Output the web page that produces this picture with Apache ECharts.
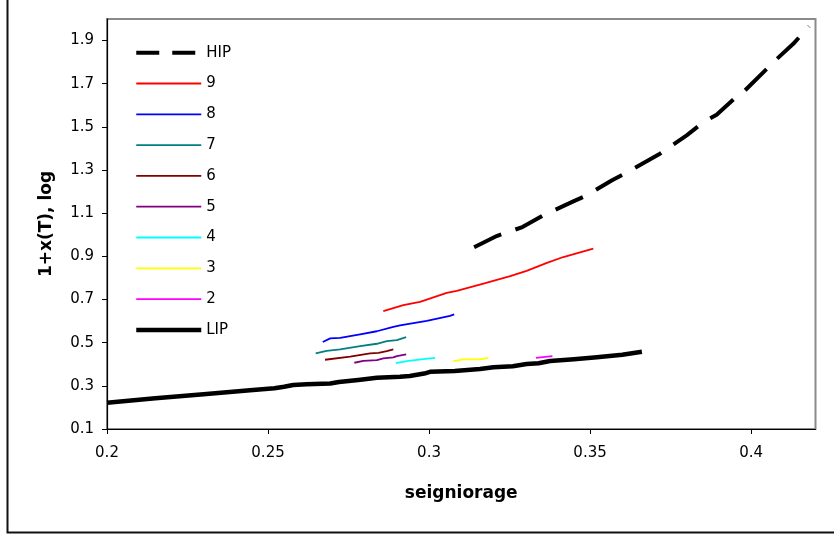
<!DOCTYPE html>
<html>
<head>
<meta charset="utf-8">
<script src="https://cdn.jsdelivr.net/npm/echarts@6/dist/echarts.min.js"></script>
<style>html,body{margin:0;padding:0;background:#fff}#c{width:834px;height:535px}</style>
</head>
<body>
<div id="c"></div>
<script>
// Tick labels
const xTicks = [0.2, 0.25, 0.3, 0.35, 0.4];
const yTicks = [0.1, 0.3, 0.5, 0.7, 0.9, 1.1, 1.3, 1.5, 1.7, 1.9];

// Series (x = seigniorage, y = 1+x(T), log)
const hipX = [0.314,0.321,0.329,0.3355,0.3448,0.349,0.3567,0.3603,0.3717,0.3759,0.380,0.3852,0.3893,0.3945,0.3981,0.4049,0.408,0.4131,0.418];
const hipY = [0.942,0.994,1.036,1.090,1.155,1.183,1.252,1.280,1.376,1.419,1.461,1.522,1.556,1.627,1.669,1.769,1.815,1.885,1.966];

const s9X = [0.2858,0.292,0.2972,0.3055,0.3086,0.3169,0.3252,0.3303,0.3366,0.3417,0.351];
const s9Y = [0.646,0.674,0.689,0.731,0.740,0.774,0.808,0.833,0.870,0.897,0.936];

const s8X = [0.267,0.2693,0.2724,0.2786,0.2838,0.2889,0.291,0.2993,0.3065,0.3078];
const s8Y = [0.503,0.520,0.522,0.538,0.553,0.573,0.580,0.601,0.624,0.631];

const s7X = [0.2648,0.2682,0.2724,0.2786,0.2838,0.2869,0.29,0.2929];
const s7Y = [0.450,0.462,0.469,0.484,0.495,0.507,0.512,0.526];

const s6X = [0.2677,0.2755,0.2817,0.2843,0.2869,0.2889];
const s6Y = [0.421,0.435,0.450,0.453,0.461,0.469];

const s5X = [0.2768,0.2796,0.2838,0.2858,0.2889,0.29,0.2929];
const s5Y = [0.407,0.416,0.419,0.427,0.432,0.438,0.446];

const s4X = [0.2897,0.2931,0.2982,0.3019];
const s4Y = [0.405,0.415,0.424,0.430];

const s3X = [0.3076,0.3107,0.3158,0.3184];
const s3Y = [0.415,0.423,0.423,0.430];

const s2X = [0.3332,0.3383];
const s2Y = [0.430,0.438];

const lipX = [0.200,0.215,0.230,0.2444,0.252,0.255,0.2578,0.262,0.2693,0.272,0.278,0.2838,0.291,0.294,0.2985,0.3003,0.308,0.3158,0.320,0.326,0.3303,0.334,0.3376,0.345,0.3521,0.360,0.3661];
const lipY = [0.222,0.242,0.261,0.280,0.289,0.296,0.304,0.307,0.311,0.318,0.327,0.337,0.342,0.346,0.357,0.365,0.369,0.378,0.386,0.391,0.401,0.405,0.415,0.423,0.432,0.444,0.458];

const zip = (xs, ys) => xs.map((x, i) => [x, ys[i]]);

const FONT = 'DejaVu Sans';

function line(name, xs, ys, color, width, type) {
  return {
    name: name, type: 'line', data: zip(xs, ys), symbol: 'none', smooth: false,
    lineStyle: { color: color, width: width, type: type || 'solid', cap: 'butt', join: 'round' },
    itemStyle: { color: color }, emphasis: { disabled: true }, animation: false
  };
}

const chart = echarts.init(document.getElementById('c'), null, { renderer: 'canvas' });
chart.setOption({
  backgroundColor: '#fff',
  animation: false,
  graphic: [{
    type: 'rect', silent: true, z: -1,
    shape: { x: 7.5, y: -10, width: 900, height: 542.5 },
    style: { fill: 'none', stroke: '#111', lineWidth: 2 }
  }],
  grid: {
    left: 107, top: 19, right: 18.5, bottom: 106,
    show: true, borderColor: '#8a8a8a', borderWidth: 2, backgroundColor: 'transparent'
  },
  legend: {
    orient: 'vertical', left: 129, top: 39.7,
    itemWidth: 65, itemHeight: 16, itemGap: 14.8, itemStyle: { opacity: 0 },
    lineStyle: { width: 'inherit' },
    textStyle: { fontFamily: FONT, fontSize: 15, color: '#000', lineHeight: 16 },
    selectedMode: false,
    data: [
      { name: 'HIP', lineStyle: { type: [23, 13], width: 4 } },
      '9', '8', '7', '6', '5', '4', '3', '2', 'LIP'
    ]
  },
  xAxis: {
    type: 'value', min: 0.2, max: 0.42,
    name: 'seigniorage', nameLocation: 'middle', nameGap: 56,
    nameTextStyle: { fontFamily: FONT, fontSize: 17, fontWeight: 'bold', color: '#000' },
    axisLine: { show: true, onZero: false, lineStyle: { color: '#000', width: 1.2 } },
    axisTick: { show: true, length: 5, customValues: xTicks, lineStyle: { color: '#000' } },
    axisLabel: { customValues: xTicks, fontFamily: FONT, fontSize: 15, color: '#000', margin: 17,
      formatter: v => String(v) },
    splitLine: { show: false }
  },
  yAxis: {
    type: 'value', min: 0.1, max: 2.0,
    name: '1+x(T), log', nameLocation: 'middle', nameGap: 52, nameRotate: 90,
    nameTextStyle: { fontFamily: FONT, fontSize: 17, fontWeight: 'bold', color: '#000' },
    axisLine: { show: true, onZero: false, lineStyle: { color: '#000', width: 1.2 } },
    axisTick: { show: true, length: 5, customValues: yTicks, lineStyle: { color: '#000' } },
    axisLabel: { customValues: yTicks, fontFamily: FONT, fontSize: 15, color: '#000', margin: 13,
      formatter: v => String(v) },
    splitLine: { show: false }
  },
  series: [
    line('HIP', hipX, hipY, '#000000', 4, [30, 15]),
    line('9', s9X, s9Y, '#FF0000', 1.8),
    line('8', s8X, s8Y, '#0000FF', 1.8),
    line('7', s7X, s7Y, '#008080', 1.8),
    line('6', s6X, s6Y, '#800000', 1.8),
    line('5', s5X, s5Y, '#800080', 1.8),
    line('4', s4X, s4Y, '#00FFFF', 1.8),
    line('3', s3X, s3Y, '#FFFF00', 1.8),
    line('2', s2X, s2Y, '#FF00FF', 1.8),
    line('LIP', lipX, lipY, '#000000', 4.5)
  ]
});
</script>
</body>
</html>
